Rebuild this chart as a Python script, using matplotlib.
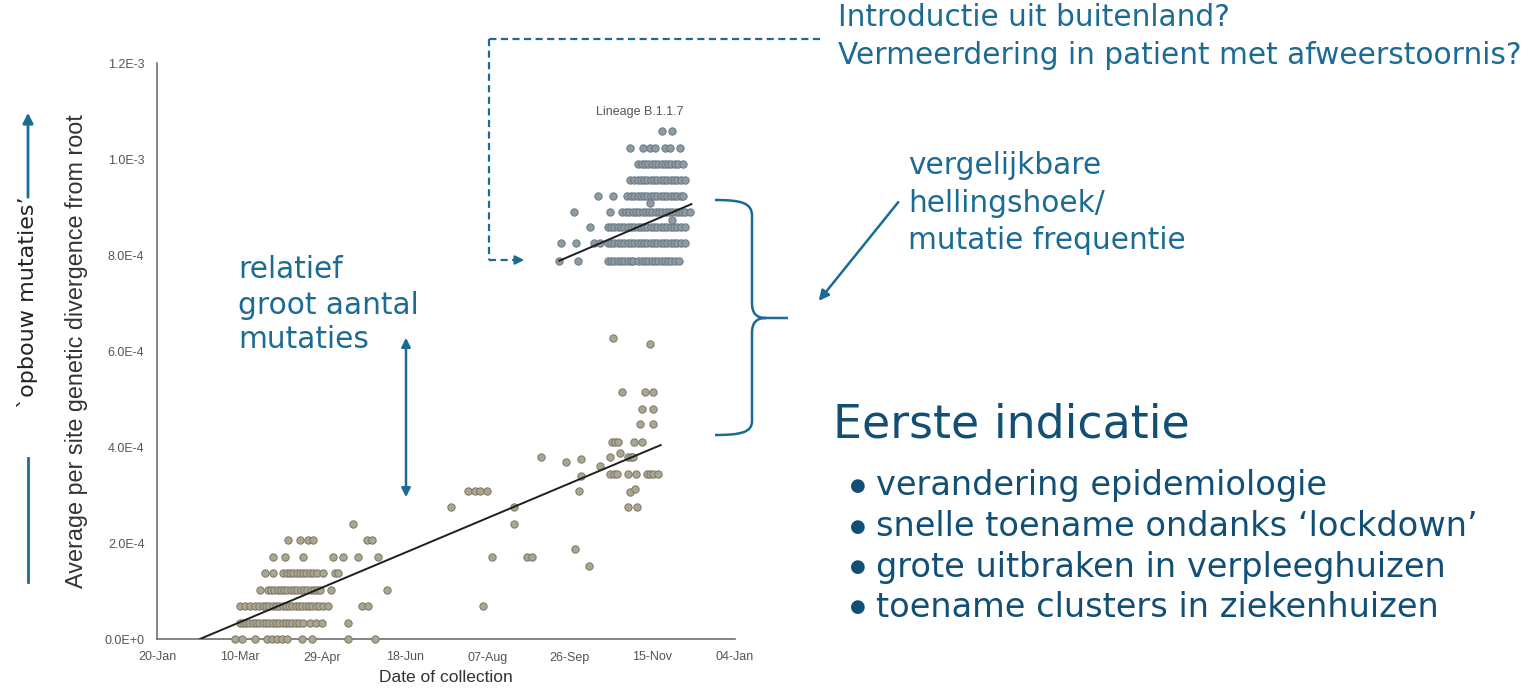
import matplotlib
matplotlib.use("Agg")
import matplotlib.pyplot as plt
from matplotlib.patches import FancyArrowPatch, PathPatch
from matplotlib.path import Path
from matplotlib.lines import Line2D

# ---------------- data (x: days since 20-Jan-2020, y: divergence in units of 1E-4) ----------------
x_tick_days = [0, 50, 100, 150, 200, 250, 300, 350]
x_tick_labels = ["20-Jan", "10-Mar", "29-Apr", "18-Jun", "07-Aug", "26-Sep", "15-Nov", "04-Jan"]
y_tick_vals = [0, 2, 4, 6, 8, 10, 12]
y_tick_labels = ["0.0E+0", "2.0E-4", "4.0E-4", "6.0E-4", "8.0E-4", "1.0E-3", "1.2E-3"]

early_levels = [0.00, 0.34, 0.69, 1.03, 1.37, 1.71, 2.06, 2.40, 2.74, 3.08]
early_days = [
    [47.3, 51.5, 59.4, 66.7, 69.7, 72.7, 75.8, 78.8, 87.9, 93.9, 115.8, 132.1],
    [50, 52, 54, 56, 58, 60, 62, 64, 66, 68, 70, 72, 74, 76, 78, 80, 82, 84, 86, 88.5,
     92.7, 96.4, 100.0, 115.8],
    [50.3, 53.3, 56.4, 59.5, 62, 64, 66, 68, 70, 72, 74, 76, 78, 80, 82, 84, 86, 88, 90, 92,
     94, 96, 98, 100.5, 103.6, 124.2, 127.9],
    [62.4, 67, 69, 71, 73, 75, 77, 79, 81, 83, 85, 87, 89, 91, 93, 95, 97, 99, 105.5, 139.4],
    [65.5, 70.3, 76.5, 78.5, 80.5, 82.5, 84.5, 86.5, 88.5, 90.5, 92.5, 94.5, 97, 100.6, 107.9, 109.7],
    [70.3, 77.6, 88.5, 106.7, 112.7, 121.5, 133.9, 203.0, 224.2, 227.3],
    [79.4, 86.7, 91.5, 94.5, 127.3, 130.3],
    [118.8, 216.4],
    [178.2, 216.4],
    [188.5, 192.7, 195.8, 200.0],
]

autumn_day = [197.6, 253.3, 261.8, 232.7, 247.9, 257.0, 255.8, 257.0, 268.5, 274.5,
              280.6, 274.5, 277.0, 278.8, 275.8, 277.6, 279.4, 285.5, 287.3, 288.5,
              285.5, 290.3, 297.0, 298.8, 300.6, 303.6, 286.7, 289.7, 285.5, 290.9,
              289.1, 293.9, 281.8, 295.8, 300.6, 293.9, 300.6, 292.7, 300.6, 276.4, 298.8]
autumn_div = [0.69, 1.88, 1.52, 3.79, 3.69, 3.75, 3.08, 3.40, 3.60, 3.79,
              3.88, 3.43, 3.43, 3.43, 4.10, 4.10, 4.10, 3.79, 3.79, 3.79,
              3.43, 3.43, 3.43, 3.43, 3.43, 3.43, 3.06, 3.12, 2.75, 2.75,
              4.10, 4.10, 5.15, 5.15, 5.15, 4.79, 4.79, 4.48, 4.48, 6.27, 6.15]

b117_levels = [7.88, 8.25, 8.58, 8.90, 9.23, 9.56, 9.90, 10.23, 10.58]
b117_days = [
    [243.6, 255.2, 273, 275, 277, 279, 281, 283, 285, 287, 288.5, 291.5, 293.5, 295.5, 297.5,
     299.5, 301.5, 303.5, 305.5, 307.5, 309.5, 311.5, 313.5, 315.8],
    [244.8, 253.9, 264.8, 268.5, 273.3, 275, 277, 279, 281, 283, 285, 287, 289, 291, 293, 295,
     297, 299, 301, 303, 305, 307, 309, 311, 313, 315, 317, 320],
    [262.4, 273.3, 275, 277, 279, 281, 283, 285, 287, 289, 291, 293, 295, 297, 299, 301, 303,
     305, 307, 309, 311, 313, 315, 317, 320],
    [252.7, 274.5, 281.8, 284, 286, 288, 290, 292, 294, 296, 298, 300, 302, 304, 306, 308, 310,
     312, 314, 316, 318, 320, 323],
    [267.3, 276.4, 284.8, 287, 289, 291, 293, 295, 297, 299, 301, 303, 305, 307, 309, 311, 313,
     315, 317, 318.8],
    [286.7, 289, 291, 293, 295, 297, 299, 301, 303, 305, 307, 309, 311, 313, 315, 317, 320],
    [291.5, 293.5, 295.5, 297.5, 299.5, 301.5, 303.5, 305.5, 307.5, 309.5, 311.5, 313.5, 315.5,
     318.8],
    [286.7, 294.5, 298.8, 301.8, 307.9, 310.9, 316.4],
    [305.5, 312.1],
]
b117_extra_day = [312.1, 298.8]
b117_extra_div = [8.73, 9.08]

early_fit_day = [26.0, 305.0]
early_fit_div = [0.0, 4.04]
b117_fit_day = [243.6, 323.6]
b117_fit_div = [7.88, 9.06]

# ---------------- figure ----------------
W, H = 1530, 692
fig = plt.figure(figsize=(W / 100, H / 100), dpi=100)
fig.patch.set_facecolor("white")


def P(x, y):
    return (x / W, 1 - y / H)


ax = fig.add_axes([157 / W, 1 - 639 / H, (735 - 157) / W, (639 - 63) / H])
ax.set_xlim(0, 350)
ax.set_ylim(0, 12)
for s in ["top", "right"]:
    ax.spines[s].set_visible(False)
for s in ["left", "bottom"]:
    ax.spines[s].set_color("#707070")
    ax.spines[s].set_linewidth(1.2)

tick_font = "Liberation Sans"
ax.set_xticks(x_tick_days)
ax.set_xticklabels(x_tick_labels, fontsize=9, color="#555555", family=tick_font)
ax.set_yticks(y_tick_vals)
ax.set_yticklabels(y_tick_labels, fontsize=9, color="#555555", family=tick_font)
ax.tick_params(axis="both", length=0)
ax.tick_params(axis="y", pad=9)
ax.tick_params(axis="x", pad=9)
ax.set_xlabel("Date of collection", fontsize=12.5, color="#333333", family=tick_font, labelpad=5)
ax.set_ylabel("Average per site genetic divergence from root", fontsize=16.8, color="#333333",
              family=tick_font, labelpad=12)

# early lineages
ex, ey = [], []
for lvl, days in zip(early_levels, early_days):
    ex.extend(days)
    ey.extend([lvl] * len(days))
ex.extend(autumn_day)
ey.extend(autumn_div)
ax.scatter(ex, ey, s=28, facecolor="#aaa690", edgecolor="#7b7868", linewidth=0.7,
           zorder=3, clip_on=False)

# B.1.1.7
bx, by = [], []
for lvl, days in zip(b117_levels, b117_days):
    bx.extend(days)
    by.extend([lvl] * len(days))
bx.extend(b117_extra_day)
by.extend(b117_extra_div)
ax.scatter(bx, by, s=28, facecolor="#8d9ba4", edgecolor="#6b7982", linewidth=0.7,
           zorder=3, clip_on=False)

ax.plot(early_fit_day, early_fit_div, color="#1e1e1e", lw=1.4, zorder=4)
ax.plot(b117_fit_day, b117_fit_div, color="#1e1e1e", lw=1.4, zorder=4)

fig.text(*P(640, 112), "Lineage B.1.1.7", fontsize=9, color="#555555", family=tick_font,
         ha="center", va="center")

# ---------------- annotations ----------------
blue = "#1b6b95"
dark = "#124f74"
ann_font = "DejaVu Sans"

# dashed connector
dash = (0, (3.2, 2.0))
fig.add_artist(Line2D([P(820, 39)[0], P(489, 39)[0]], [P(820, 39)[1], P(489, 39)[1]],
                      color=blue, lw=1.6, linestyle=dash, transform=fig.transFigure))
fig.add_artist(Line2D([P(489, 39)[0], P(489, 260)[0]], [P(489, 39)[1], P(489, 260)[1]],
                      color=blue, lw=1.6, linestyle=dash, transform=fig.transFigure))
fig.add_artist(Line2D([P(489, 260)[0], P(515, 260)[0]], [P(489, 260)[1], P(515, 260)[1]],
                      color=blue, lw=1.6, linestyle=dash, transform=fig.transFigure))
fig.add_artist(FancyArrowPatch(P(512, 260), P(527, 260), transform=fig.transFigure,
                               arrowstyle="-|>", mutation_scale=13, color=blue, lw=1.6))

fig.text(*P(838, 18), "Introductie uit buitenland?", fontsize=21.3, color=blue, family=ann_font,
         ha="left", va="center")
fig.text(*P(838, 55), "Vermeerdering in patient met afweerstoornis?", fontsize=21.3, color=blue,
         family=ann_font, ha="left", va="center")

# left arrow + label
fig.add_artist(Line2D([P(28, 458)[0], P(28, 582)[0]], [P(28, 458)[1], P(28, 582)[1]],
                      color=blue, lw=2, transform=fig.transFigure))
fig.add_artist(FancyArrowPatch(P(28, 200), P(28, 110), transform=fig.transFigure,
                               arrowstyle="-|>", mutation_scale=15, color=blue, lw=2))
fig.text(*P(28, 302), "`opbouw mutaties’", fontsize=16, color="#222222", family=ann_font,
         rotation=90, ha="center", va="center")

# relatief groot aantal mutaties
for i, line in enumerate(["relatief", "groot aantal", "mutaties"]):
    fig.text(*P(238, 270 + 35 * i), line, fontsize=21.3, color=blue, family=ann_font,
             ha="left", va="center")
fig.add_artist(FancyArrowPatch(P(406, 335), P(406, 500), transform=fig.transFigure,
                               arrowstyle="<|-|>", mutation_scale=13, color=blue, lw=1.8))

# vergelijkbare hellingshoek
for i, line in enumerate(["vergelijkbare", "hellingshoek/", "mutatie frequentie"]):
    fig.text(*P(908, 166 + 37 * i), line, fontsize=21.3, color=blue, family=ann_font,
             ha="left", va="center")
fig.add_artist(FancyArrowPatch(P(900, 200), P(817, 303), transform=fig.transFigure,
                               arrowstyle="-|>", mutation_scale=15, color=blue, lw=1.8))

# brace
verts = [P(715, 200), P(742, 200), P(752, 203), P(752, 216),
         P(752, 303),
         P(752, 313), P(756, 318), P(766, 318),
         P(788, 318),
         P(766, 318),
         P(756, 318), P(752, 323), P(752, 333),
         P(752, 421),
         P(752, 432), P(742, 435), P(715, 435)]
codes = [Path.MOVETO, Path.CURVE4, Path.CURVE4, Path.CURVE4,
         Path.LINETO,
         Path.CURVE4, Path.CURVE4, Path.CURVE4,
         Path.LINETO,
         Path.MOVETO,
         Path.CURVE4, Path.CURVE4, Path.CURVE4,
         Path.LINETO,
         Path.CURVE4, Path.CURVE4, Path.CURVE4]
fig.add_artist(PathPatch(Path(verts, codes), transform=fig.transFigure, fill=False,
                         edgecolor=blue, lw=1.8))

# Eerste indicatie
fig.text(*P(833, 425), "Eerste indicatie", fontsize=33, color=dark, family=ann_font,
         ha="left", va="center")
bullets = ["verandering epidemiologie", "snelle toename ondanks ‘lockdown’",
           "grote uitbraken in verpleeghuizen", "toename clusters in ziekenhuizen"]
for i, b in enumerate(bullets):
    y = 486 + 40.5 * i
    fig.text(*P(858, y), "●", fontsize=13, color=dark, family=ann_font, ha="center", va="center")
    fig.text(*P(876, y), b, fontsize=24.2, color=dark, family=ann_font, ha="left", va="center")

fig.savefig("out.png", dpi=100, facecolor="white")
